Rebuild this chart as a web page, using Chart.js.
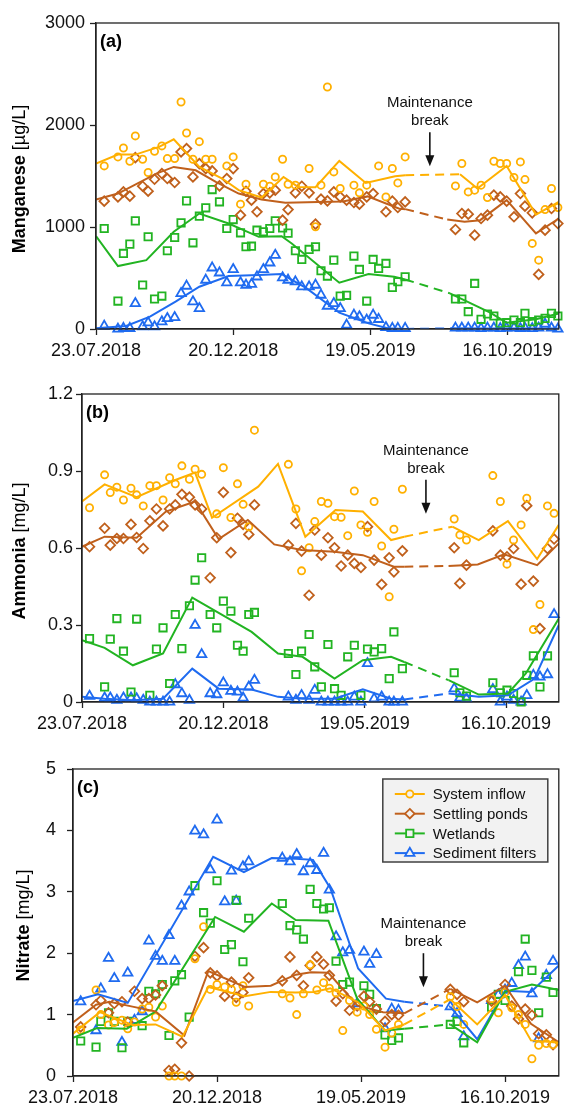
<!DOCTYPE html>
<html>
<head>
<meta charset="utf-8">
<script src="https://cdn.jsdelivr.net/npm/chart.js@4.4.1/dist/chart.umd.min.js"></script>
<style>
  html, body { margin: 0; padding: 0; background: #fff; }
  body { width: 566px; height: 1107px; position: relative; overflow: hidden; }
  .panel { position: absolute; left: 0; width: 566px; }
</style>
</head>
<body>
<div class="panel" style="top:0;height:368px"><canvas id="grafMn"></canvas></div>
<div class="panel" style="top:368px;height:368px"><canvas id="grafNh4"></canvas></div>
<div class="panel" style="top:736px;height:371px"><canvas id="grafNo3"></canvas></div>
<script>
// x axis: days since 23.07.2018
const xTickDays = [0, 150, 300, 450];
const xTickLabels = ["23.07.2018", "20.12.2018", "19.05.2019", "16.10.2019"];
const xMaxDay = 506;
const breakDay = 365;

const seriesNames = ["System inflow", "Settling ponds", "Wetlands", "Sediment filters"];
const seriesColors = ["#FFB000", "#C0601C", "#22B422", "#1F6BF0"];
const seriesMarkers = ["circle", "rectRot", "rect", "triangle"];
const markerSizes = [3.6, 4.8, 5.2, 5.4];

// ---- (a) Manganese [µg/L]
const daysMn = [9,24,30,37,43,51,57,64,72,78,86,93,99,106,113,120,127,135,143,150,158,164,170,176,183,190,196,204,210,218,225,233,240,246,253,260,267,274,282,288,296,303,309,317,324,330,338,393,400,407,414,421,428,435,442,449,457,464,469,477,484,491,498,505];
const mnInflow = [1599,1687,1775,1645,1893,1664,1534,1742,1795,1671,
  1671,2225,1922,1664,1837,1664,1664,null,1599,1687,
  1224,1419,null,null,1419,1400,1491,1664,1419,1410,
  null,1573,1002,1410,2372,1540,1377,null,1410,1335,
  1410,null,1599,1295,1573,1432,1687,
  1403,1622,1344,1361,1410,1289,1645,1622,1622,1485,
  1638,1465,839,675,1171,1377,1191];
const mnPonds = [1253,1295,1344,1302,1680,1400,1351,1468,1524,1475,
  1436,1736,1769,1491,1622,1573,1550,1403,1475,1573,
  1116,1351,1263,1149,1328,1335,1361,1067,1171,1335,
  1400,1335,1028,1273,1256,1344,1295,1263,1240,1224,
  1295,1328,null,1149,1253,1191,1246,
  976,1132,1126,920,1083,1116,1312,1295,1253,1100,
  1328,1204,1139,535,969,1181,1034];
const mnWetlands = [985,274,741,832,1060,431,904,294,323,767,
  897,1041,1256,845,1106,1188,1367,1247,985,1073,
  943,806,812,969,953,985,1060,990,940,767,
  682,780,806,571,519,675,323,330,715,584,
  274,682,594,643,408,463,512,
  294,294,170,447,95,147,127,55,62,88,
  62,153,72,88,104,153,127];
const mnFilters = [29,0,7,7,251,23,62,23,72,104,
  114,349,421,268,202,480,600,551,454,584,
  454,431,440,512,584,649,724,503,480,463,
  414,414,431,333,225,251,202,39,137,121,
  88,137,95,16,7,7,7,
  10,10,10,10,5,10,10,5,10,10,
  5,10,5,10,49,10,0];
const trendMnInflow = [[0,1622],[24,1710],[43,1710],[69,1785],[85,1860],[113,1589],[138,1475],[156,1361],[181,1289],[205,1491],[221,1393],[240,1390],[266,1648],[295,1432],[327,1498],[338,1508],[398,1517],[417,1377],[449,1599],[481,1122],[506,1246]];
const trendMnPonds = [[0,1269],[24,1328],[66,1524],[85,1589],[109,1556],[131,1442],[156,1328],[181,1269],[207,1237],[243,1246],[270,1250],[297,1300],[331,1181],[338,1175],[384,1073],[403,1051],[420,1067],[449,1263],[481,937],[506,1083]];
const trendMnWetlands = [[0,910],[24,617],[55,675],[85,953],[113,1132],[145,1034],[178,904],[203,910],[214,839],[266,454],[298,538],[326,512],[338,486],[387,349],[431,160],[449,62],[481,95],[506,153]];
const trendMnFilters = [[0,7],[33,29],[59,121],[87,268],[113,414],[145,519],[178,529],[203,538],[230,400],[266,160],[298,55],[319,7],[338,0],[391,7],[430,5],[470,5],[506,5]];
const yTicksMn = [0, 1000, 2000, 3000];

// ---- (b) Ammonia [mg/L]
const daysNh4 = [8,24,30,37,44,52,58,65,72,79,86,93,99,106,114,120,127,136,143,150,158,165,171,177,183,219,227,233,241,247,254,261,268,275,282,289,296,303,310,318,326,331,340,395,401,408,436,444,451,458,466,472,479,486,494,501];
const nh4Inflow = [0.757,0.885,0.816,0.837,0.787,0.833,0.807,0.764,0.843,0.843,
  0.787,0.874,0.850,0.920,0.868,0.907,0.887,null,0.733,0.913,
  0.719,0.850,0.770,0.683,1.059,
  0.926,0.752,0.511,0.601,0.703,0.781,0.774,0.722,0.720,0.648,
  0.822,0.690,0.661,0.781,0.608,0.410,0.673,0.829,
  0.713,0.651,0.631,
  0.882,0.781,0.537,0.631,0.690,0.794,0.282,0.380,0.764,0.735];
const nh4Ponds = [0.605,0.677,0.611,0.637,0.637,0.692,0.641,0.598,0.706,0.752,
  0.686,0.752,0.768,0.809,0.798,0.768,0.752,0.484,0.640,0.817,
  0.582,0.716,0.692,0.653,0.768,
  0.611,0.696,0.588,0.416,0.670,0.572,0.640,0.601,0.530,0.572,
  0.540,0.524,0.683,0.553,0.458,0.562,0.507,0.589,
  0.601,0.462,0.533,
  0.667,0.572,0.566,0.598,0.459,0.765,0.471,0.286,0.598,0.635];
const nh4Wetlands = [0.247,0.059,0.245,0.325,0.198,0.039,0.323,null,0.026,0.206,
  0.289,0.072,0.341,0.208,0.375,0.475,0.562,0.341,0.289,0.393,
  0.354,0.221,0.198,0.341,0.349,
  0.189,0.107,0.198,0.263,0.137,0.059,0.224,0.052,0.026,0.176,
  0.221,0.026,0.206,0.195,0.208,0.091,0.273,0.130,
  0.114,0.036,0.023,
  0.075,0.036,0.046,0.033,0.0,0.104,0.180,0.059,0.180,null];
const nh4Filters = [0.023,0.016,0.016,0.007,0.016,0.016,0.013,0.007,0,0,
  0,0,0.068,0.033,0.007,0.299,0.185,0.033,0.029,0.075,
  0.042,0.039,0.016,0.059,0.085,
  0.020,0.007,0.026,0.007,0.046,0,0,0,0,0,
  0.020,0,0.150,0.013,0.020,0,0,0,
  0.052,0.016,0.013,
  0.049,0,0.020,0.007,0,0.026,0.104,0.098,0.107,0.341];
const trendNh4Inflow = [[0,0.781],[24,0.848],[58,0.798],[99,0.865],[120,0.894],[138,0.718],[187,0.839],[208,0.928],[237,0.644],[269,0.748],[298,0.742],[328,0.631],[342,0.644],[393,0.683],[421,0.631],[452,0.705],[483,0.557],[506,0.690]];
const trendNh4Ponds = [[0,0.605],[24,0.644],[58,0.640],[89,0.742],[120,0.781],[145,0.635],[176,0.709],[204,0.614],[233,0.592],[268,0.585],[298,0.572],[331,0.527],[342,0.527],[389,0.530],[420,0.536],[448,0.575],[483,0.533],[506,0.618]];
const trendNh4Wetlands = [[0,0.241],[24,0.211],[54,0.143],[86,0.189],[117,0.407],[180,0.273],[208,0.189],[234,0.176],[268,0.091],[298,0.163],[328,0.176],[342,0.156],[389,0.085],[421,0.029],[452,0.033],[471,0.111],[506,0.325]];
const trendNh4Filters = [[0,0.020],[24,0.013],[54,0.007],[86,0.013],[117,0.130],[145,0.052],[180,0.049],[208,0.020],[234,0.013],[268,0.013],[298,0.049],[328,0.013],[342,0.010],[389,0.033],[421,0.020],[452,0.026],[480,0.090],[506,0.300]];
const yTicksNh4 = [0, 0.3, 0.6, 0.9, 1.2];

// ---- (c) Nitrate [mg/L]
const daysNo3 = [8,24,29,37,43,51,57,64,72,79,86,93,100,106,113,121,127,136,143,150,158,165,170,177,183,218,226,233,240,247,254,261,267,274,281,288,296,303,309,316,325,332,339,393,400,407,436,443,450,457,464,471,478,485,493,500];
const no3Inflow = [0.75,1.40,1.00,0.83,0.87,0.91,0.77,0.88,1.09,1.12,
  0.96,1.14,0,0,0,null,1.91,2.43,1.41,1.49,
  1.45,1.41,1.20,1.47,1.14,
  1.34,1.27,1.00,1.34,1.81,1.40,1.52,1.43,1.35,0.74,
  1.23,1.04,1.14,1.00,0.76,0.47,0.70,0.84,
  1.29,1.13,0.84,
  1.26,1.03,1.36,1.11,1.00,0.84,0.28,0.50,0.53,0.51];
const no3Ponds = [0.80,1.16,1.23,1.03,1.18,1.21,0.88,1.38,1.26,1.26,
  1.32,1.47,0.09,0.11,0.54,0,1.95,2.09,1.68,1.63,
  1.30,1.53,1.28,1.36,1.60,
  1.55,1.94,1.64,1.47,1.80,1.94,1.82,1.64,1.22,1.34,
  1.07,1.14,1.30,1.21,1.09,0.89,1.00,0.99,
  1.41,1.33,1.21,
  1.22,null,1.49,1.14,0.93,1.09,0.99,0.69,0.67,0.51];
const no3Wetlands = [0.57,0.47,0.89,1.03,0.89,0.46,0.89,null,0.82,1.38,
  1.34,1.49,0.66,1.55,1.65,0.96,3.10,2.66,2.49,3.18,
  2.06,2.14,2.86,1.86,2.57,
  2.81,2.45,2.38,2.23,3.04,2.81,2.72,2.74,1.87,1.49,
  1.53,null,1.47,1.33,1.10,0.67,0.58,0.62,
  0.84,0.89,0.54,
  1.12,1.33,1.23,null,1.70,2.23,1.72,1.03,1.61,1.36];
const no3Filters = [1.21,0.74,1.42,1.92,1.59,0.55,1.68,0.91,1.05,2.20,
  1.95,1.87,2.29,1.87,2.77,3.00,3.99,3.93,3.36,4.17,
  2.84,3.34,2.85,3.41,3.49,
  3.55,3.49,3.61,3.33,3.46,3.35,3.63,3.03,2.27,2.01,
  2.05,1.18,2.02,1.82,1.98,0.77,1.09,1.07,
  1.13,1.02,0.64,
  1.23,1.32,1.40,1.51,1.80,1.94,1.34,0.61,1.64,1.87];
const trendNo3Inflow = [[0,0.69],[28,1.04],[62,0.83],[86,0.84],[114,0.64],[141,1.45],[179,1.30],[206,1.37],[232,1.36],[251,1.37],[268,1.43],[297,1.20],[325,0.74],[345,0.84],[393,1.25],[421,0.84],[450,1.32],[477,0.58],[506,0.54]];
const trendNo3Ponds = [[0,0.87],[24,1.16],[38,1.21],[62,1.13],[86,1.05],[116,0.66],[141,1.71],[179,1.45],[206,1.47],[232,1.65],[248,1.69],[266,1.68],[296,1.15],[323,1.04],[345,1.02],[393,1.42],[421,1.20],[450,1.47],[477,0.85],[506,0.55]];
const trendNo3Wetlands = [[0,0.62],[25,0.78],[56,0.77],[86,1.05],[148,2.59],[178,2.35],[207,2.81],[232,2.54],[266,2.53],[296,1.26],[325,0.74],[345,0.77],[393,0.84],[421,0.55],[450,1.37],[478,1.49],[506,1.40]];
const trendNo3Filters = [[0,1.22],[26,1.33],[57,1.19],[146,3.57],[178,3.32],[207,3.55],[232,3.54],[250,3.52],[268,3.06],[297,1.75],[326,1.26],[345,1.21],[393,1.13],[421,0.60],[450,1.39],[477,1.37],[506,1.80]];
const yTicksNo3 = [0, 1, 2, 3, 4, 5];

const fonte = "'Liberation Sans', Arial, sans-serif";
Chart.defaults.font.family = fonte;
Chart.defaults.font.size = 18;
Chart.defaults.color = "#111";

function desenharMarcador(ctx, estilo, r, x, y) {
    ctx.beginPath();
    if (estilo === "circle") {
        ctx.arc(x, y, r, 0, Math.PI * 2);
    } else if (estilo === "rectRot") {
        ctx.moveTo(x, y - r); ctx.lineTo(x + r, y); ctx.lineTo(x, y + r); ctx.lineTo(x - r, y);
    } else if (estilo === "rect") {
        const s = r * Math.SQRT1_2;
        ctx.rect(x - s, y - s, 2 * s, 2 * s);
    } else {
        const h = r * 1.5, w = r * Math.sqrt(3) / 2;
        ctx.moveTo(x, y - r); ctx.lineTo(x + w, y + h - r); ctx.lineTo(x - w, y + h - r);
    }
    ctx.closePath();
    ctx.fill();
    ctx.stroke();
}

const molduraPlugin = {
    id: "moldura",
    afterDraw(chart, args, opts) {
        const { ctx, chartArea: a } = chart;
        ctx.save();
        ctx.strokeStyle = "#222";
        ctx.lineWidth = 1.3;
        ctx.strokeRect(a.left, a.top, a.right - a.left, a.bottom - a.top);

        // panel tag
        ctx.fillStyle = "#000";
        ctx.font = `bold 18px ${fonte}`;
        ctx.textAlign = "left";
        ctx.textBaseline = "middle";
        ctx.fillText(opts.tag, a.left + 4, a.top + 19);

        // y title, bold name + normal unit
        ctx.save();
        ctx.translate(opts.titleX, (a.top + a.bottom) / 2 + 3);
        ctx.rotate(-Math.PI / 2);
        ctx.font = `bold 18px ${fonte}`;
        const w1 = ctx.measureText(opts.titleBold).width;
        ctx.font = `18px ${fonte}`;
        const w2 = ctx.measureText(opts.titleUnit).width;
        const x0 = -(w1 + w2) / 2;
        ctx.font = `bold 18px ${fonte}`;
        ctx.fillText(opts.titleBold, x0, 0);
        ctx.font = `18px ${fonte}`;
        ctx.fillText(opts.titleUnit, x0 + w1, 0);
        ctx.restore();

        // maintenance break note
        const xb = chart.scales.x.getPixelForValue(breakDay);
        const yTip = chart.scales.y.getPixelForValue(opts.tip);
        ctx.fillStyle = "#111";
        ctx.strokeStyle = "#111";
        ctx.font = `15px ${fonte}`;
        ctx.textAlign = "center";
        ctx.fillText("Maintenance", xb, yTip - 63);
        ctx.fillText("break", xb, yTip - 45);
        ctx.lineWidth = 1.6;
        ctx.beginPath();
        ctx.moveTo(xb, yTip - 34);
        ctx.lineTo(xb, yTip - 9);
        ctx.stroke();
        ctx.beginPath();
        ctx.moveTo(xb - 4.5, yTip - 11);
        ctx.lineTo(xb + 4.5, yTip - 11);
        ctx.lineTo(xb, yTip);
        ctx.closePath();
        ctx.fill();

        if (opts.legend) {
            const bx = a.right - 176, by = a.top + 10, bw = 165, bh = 83;
            ctx.fillStyle = "#f2f2f2";
            ctx.fillRect(bx, by, bw, bh);
            ctx.strokeStyle = "#404040";
            ctx.lineWidth = 1.5;
            ctx.strokeRect(bx, by, bw, bh);
            seriesNames.forEach((nome, i) => {
                const yy = by + 15 + i * 19.7;
                ctx.strokeStyle = seriesColors[i];
                ctx.lineWidth = 2;
                ctx.beginPath();
                ctx.moveTo(bx + 12, yy);
                ctx.lineTo(bx + 42, yy);
                ctx.stroke();
                ctx.fillStyle = "#f2f2f2";
                ctx.lineWidth = 1.8;
                desenharMarcador(ctx, seriesMarkers[i], markerSizes[i], bx + 27, yy);
                ctx.fillStyle = "#111";
                ctx.font = `15px ${fonte}`;
                ctx.textAlign = "left";
                ctx.fillText(nome, bx + 50, yy + 1);
            });
        }
        ctx.restore();
    }
};

function criarPainel(id, p) {
    const datasets = [];
    p.values.forEach((vals, i) => {
        datasets.push({
            label: seriesNames[i],
            data: p.days.map((d, k) => ({ x: d, y: vals[k] })),
            showLine: false,
            pointStyle: seriesMarkers[i],
            pointRadius: markerSizes[i],
            pointBorderWidth: 1.8,
            pointBorderColor: seriesColors[i],
            pointBackgroundColor: "rgba(255,255,255,0)",
            borderColor: seriesColors[i],
            order: 1,
            clip: false
        });
    });
    p.trends.forEach((tr, i) => {
        datasets.push({
            label: seriesNames[i] + " (trend)",
            data: tr.map(([d, v]) => ({ x: d, y: v })),
            borderColor: seriesColors[i],
            borderWidth: 2,
            pointRadius: 0,
            tension: 0,
            segment: {
                borderDash: c => (c.p0.parsed.x < breakDay && c.p1.parsed.x > breakDay ? [9, 6] : undefined)
            },
            order: 0
        });
    });

    const eixo = { color: "#222", width: 1.3 };
    const grade = { drawOnChartArea: false, drawTicks: true, tickLength: 6, tickColor: "#222", tickWidth: 1.3 };

    return new Chart(document.getElementById(id), {
        type: "line",
        data: { datasets },
        options: {
            responsive: true,
            maintainAspectRatio: false,
            animation: false,
            events: [],
            layout: { padding: p.padding },
            plugins: {
                legend: { display: false },
                tooltip: { enabled: false },
                moldura: p.notes
            },
            scales: {
                x: {
                    type: "linear",
                    min: 0,
                    max: xMaxDay,
                    afterBuildTicks: s => { s.ticks = xTickDays.map(v => ({ value: v })); },
                    afterFit: s => { s.height = p.xHeight; },
                    grid: grade,
                    border: eixo,
                    ticks: {
                        autoSkip: false,
                        maxRotation: 0,
                        padding: 5,
                        callback: v => xTickLabels[xTickDays.indexOf(v)]
                    }
                },
                y: {
                    min: 0,
                    max: p.yTicks[p.yTicks.length - 1],
                    afterBuildTicks: s => { s.ticks = p.yTicks.map(v => ({ value: v })); },
                    afterFit: s => { s.width = p.yWidth; },
                    grid: grade,
                    border: eixo,
                    ticks: {
                        padding: p.yPad,
                        callback: v => String(v)
                    }
                }
            }
        },
        plugins: [molduraPlugin]
    });
}

criarPainel("grafMn", {
    days: daysMn,
    values: [mnInflow, mnPonds, mnWetlands, mnFilters],
    trends: [trendMnInflow, trendMnPonds, trendMnWetlands, trendMnFilters],
    yTicks: yTicksMn,
    padding: { top: 23, right: 1, bottom: 0, left: 0 },
    yWidth: 96, xHeight: 39, yPad: 5,
    notes: { tag: "(a)", titleBold: "Manganese", titleUnit: " [µg/L]", titleX: 20, tip: 1596, legend: false }
});

criarPainel("grafNh4", {
    days: daysNh4,
    values: [nh4Inflow, nh4Ponds, nh4Wetlands, nh4Filters],
    trends: [trendNh4Inflow, trendNh4Ponds, trendNh4Wetlands, trendNh4Filters],
    yTicks: yTicksNh4,
    padding: { top: 26, right: -1, bottom: 0, left: 0 },
    yWidth: 82, xHeight: 34, yPad: 3,
    notes: { tag: "(b)", titleBold: "Ammonia", titleUnit: " [mg/L]", titleX: 20, tip: 0.733, legend: false }
});

criarPainel("grafNo3", {
    days: daysNo3,
    values: [no3Inflow, no3Ponds, no3Wetlands, no3Filters],
    trends: [trendNo3Inflow, trendNo3Ponds, trendNo3Wetlands, trendNo3Filters],
    yTicks: yTicksNo3,
    padding: { top: 33, right: -1, bottom: 0, left: 0 },
    yWidth: 73, xHeight: 31, yPad: 11,
    notes: { tag: "(c)", titleBold: "Nitrate", titleUnit: " [mg/L]", titleX: 24, tip: 1.446, legend: true }
});
</script>
</body>
</html>
